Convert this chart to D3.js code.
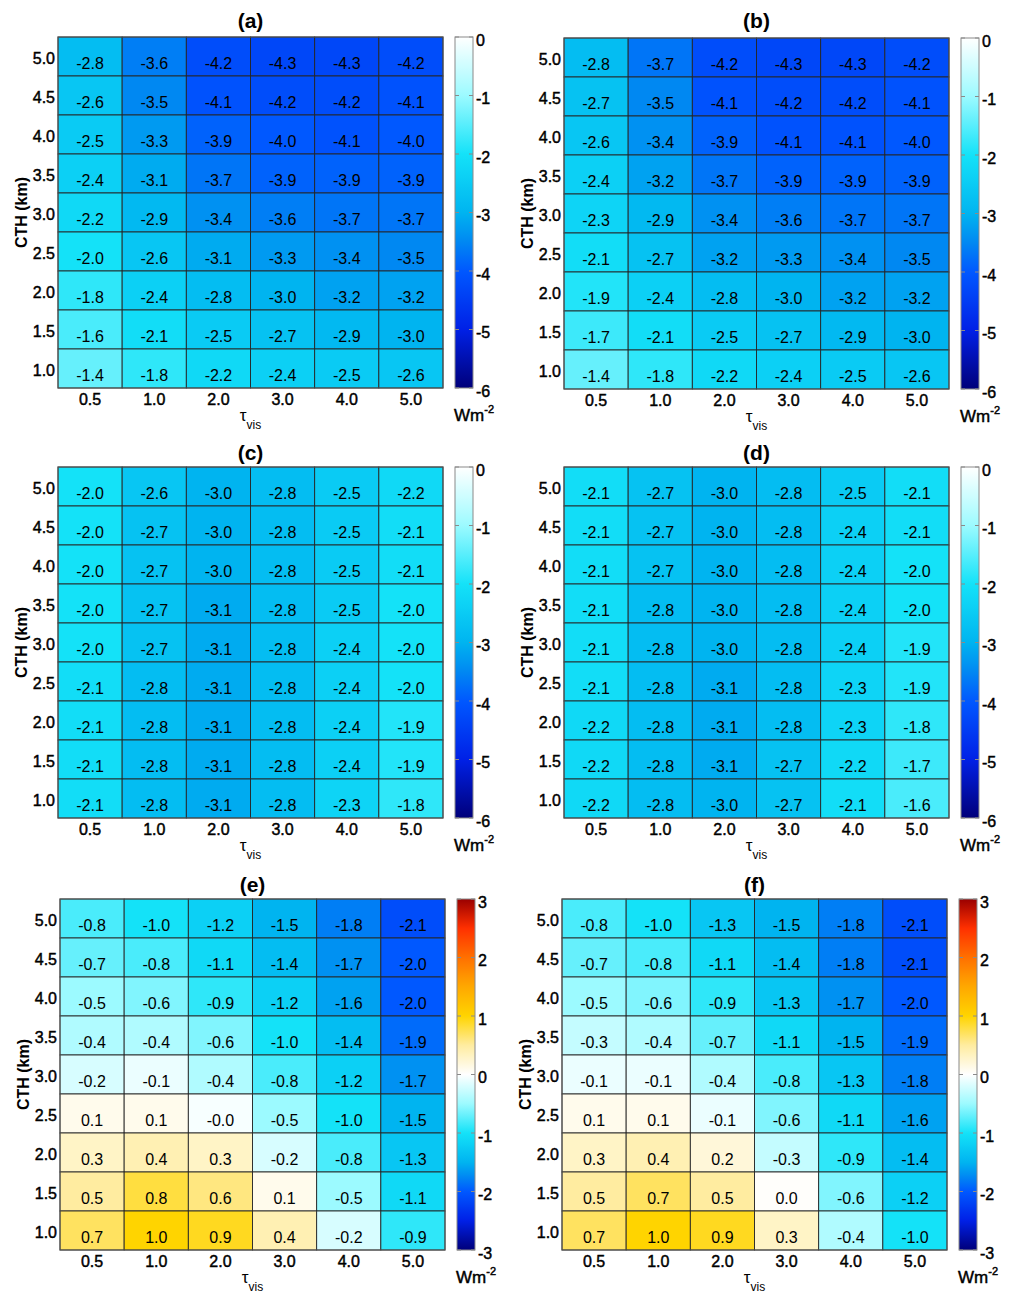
<!DOCTYPE html>
<html><head><meta charset="utf-8">
<script src="https://cdn.jsdelivr.net/npm/d3@7"></script>
<style>
body{margin:0;background:#fff}
svg{display:block}
text{font-family:"Liberation Sans",Arial,Helvetica,sans-serif;fill:#000}
.heavy{stroke:#000;stroke-width:0.45px}
</style>
</head><body>
<svg id="chart" width="1010" height="1293"></svg>
<script>
// ---------- data ----------
const tauLabels = ["0.5","1.0","2.0","3.0","4.0","5.0"];
const cthLabels = ["5.0","4.5","4.0","3.5","3.0","2.5","2.0","1.5","1.0"]; // top -> bottom
const panelTitles = ["(a)","(b)","(c)","(d)","(e)","(f)"];

// rows follow cthLabels (5.0 at top), columns follow tauLabels
const valuesA = [
  [-2.8,-3.6,-4.2,-4.3,-4.3,-4.2],
  [-2.6,-3.5,-4.1,-4.2,-4.2,-4.1],
  [-2.5,-3.3,-3.9,-4.0,-4.1,-4.0],
  [-2.4,-3.1,-3.7,-3.9,-3.9,-3.9],
  [-2.2,-2.9,-3.4,-3.6,-3.7,-3.7],
  [-2.0,-2.6,-3.1,-3.3,-3.4,-3.5],
  [-1.8,-2.4,-2.8,-3.0,-3.2,-3.2],
  [-1.6,-2.1,-2.5,-2.7,-2.9,-3.0],
  [-1.4,-1.8,-2.2,-2.4,-2.5,-2.6]
];
const valuesB = [
  [-2.8,-3.7,-4.2,-4.3,-4.3,-4.2],
  [-2.7,-3.5,-4.1,-4.2,-4.2,-4.1],
  [-2.6,-3.4,-3.9,-4.1,-4.1,-4.0],
  [-2.4,-3.2,-3.7,-3.9,-3.9,-3.9],
  [-2.3,-2.9,-3.4,-3.6,-3.7,-3.7],
  [-2.1,-2.7,-3.2,-3.3,-3.4,-3.5],
  [-1.9,-2.4,-2.8,-3.0,-3.2,-3.2],
  [-1.7,-2.1,-2.5,-2.7,-2.9,-3.0],
  [-1.4,-1.8,-2.2,-2.4,-2.5,-2.6]
];
const valuesC = [
  [-2.0,-2.6,-3.0,-2.8,-2.5,-2.2],
  [-2.0,-2.7,-3.0,-2.8,-2.5,-2.1],
  [-2.0,-2.7,-3.0,-2.8,-2.5,-2.1],
  [-2.0,-2.7,-3.1,-2.8,-2.5,-2.0],
  [-2.0,-2.7,-3.1,-2.8,-2.4,-2.0],
  [-2.1,-2.8,-3.1,-2.8,-2.4,-2.0],
  [-2.1,-2.8,-3.1,-2.8,-2.4,-1.9],
  [-2.1,-2.8,-3.1,-2.8,-2.4,-1.9],
  [-2.1,-2.8,-3.1,-2.8,-2.3,-1.8]
];
const valuesD = [
  [-2.1,-2.7,-3.0,-2.8,-2.5,-2.1],
  [-2.1,-2.7,-3.0,-2.8,-2.4,-2.1],
  [-2.1,-2.7,-3.0,-2.8,-2.4,-2.0],
  [-2.1,-2.8,-3.0,-2.8,-2.4,-2.0],
  [-2.1,-2.8,-3.0,-2.8,-2.4,-1.9],
  [-2.1,-2.8,-3.1,-2.8,-2.3,-1.9],
  [-2.2,-2.8,-3.1,-2.8,-2.3,-1.8],
  [-2.2,-2.8,-3.1,-2.7,-2.2,-1.7],
  [-2.2,-2.8,-3.0,-2.7,-2.1,-1.6]
];
const valuesE = [
  [-0.8,-1.0,-1.2,-1.5,-1.8,-2.1],
  [-0.7,-0.8,-1.1,-1.4,-1.7,-2.0],
  [-0.5,-0.6,-0.9,-1.2,-1.6,-2.0],
  [-0.4,-0.4,-0.6,-1.0,-1.4,-1.9],
  [-0.2,-0.1,-0.4,-0.8,-1.2,-1.7],
  [ 0.1, 0.1,-0.04,-0.5,-1.0,-1.5],
  [ 0.3, 0.4, 0.3,-0.2,-0.8,-1.3],
  [ 0.5, 0.8, 0.6, 0.1,-0.5,-1.1],
  [ 0.7, 1.0, 0.9, 0.4,-0.2,-0.9]
];
const valuesF = [
  [-0.8,-1.0,-1.3,-1.5,-1.8,-2.1],
  [-0.7,-0.8,-1.1,-1.4,-1.8,-2.1],
  [-0.5,-0.6,-0.9,-1.3,-1.7,-2.0],
  [-0.3,-0.4,-0.7,-1.1,-1.5,-1.9],
  [-0.1,-0.1,-0.4,-0.8,-1.3,-1.8],
  [ 0.1, 0.1,-0.1,-0.6,-1.1,-1.6],
  [ 0.3, 0.4, 0.2,-0.3,-0.9,-1.4],
  [ 0.5, 0.7, 0.5, 0.02,-0.6,-1.2],
  [ 0.7, 1.0, 0.9, 0.3,-0.4,-1.0]
];
const cbTicksSeq = [0,-1,-2,-3,-4,-5,-6];
const cbTicksDiv = [3,2,1,0,-1,-2,-3];

// ---------- colour scales ----------
const seqColor = d3.scaleLinear()
  .domain([-6,-5,-4,-3.5,-3,-2,-1,0])
  .range(["#00007a","#0020e6","#0058ff","#0088f2","#00b4f0","#14e2f8","#9cfaff","#ffffff"])
  .clamp(true);
const divColor = d3.scaleLinear()
  .domain([-3,-2.5,-2,-1.75,-1.5,-1,-0.5,0,0.5,1,1.5,2,2.5,3])
  .range(["#00007a","#0020e6","#0058ff","#0088f2","#00b4f0","#14e2f8","#9cfaff","#ffffff",
          "#ffeca0","#ffd400","#ffa800","#ff7000","#ff3000","#9a0000"])
  .clamp(true);

// ---------- layout ----------
const W = 385, H = 351;
const panels = [
  {title:panelTitles[0], vals:valuesA, x0:58,  y0:37,  ty:27.5, color:seqColor, dom:[-6,0], ticks:cbTicksSeq},
  {title:panelTitles[1], vals:valuesB, x0:564, y0:38,  ty:28,   color:seqColor, dom:[-6,0], ticks:cbTicksSeq},
  {title:panelTitles[2], vals:valuesC, x0:58,  y0:467, ty:460,  color:seqColor, dom:[-6,0], ticks:cbTicksSeq},
  {title:panelTitles[3], vals:valuesD, x0:564, y0:467, ty:460,  color:seqColor, dom:[-6,0], ticks:cbTicksSeq},
  {title:panelTitles[4], vals:valuesE, x0:60,  y0:899, ty:892,  color:divColor, dom:[-3,3], ticks:cbTicksDiv},
  {title:panelTitles[5], vals:valuesF, x0:562, y0:899, ty:892,  color:divColor, dom:[-3,3], ticks:cbTicksDiv}
];

const svg = d3.select("#chart");
svg.append("rect").attr("width",1010).attr("height",1293).attr("fill","#fff");
const defs = svg.append("defs");

const fmt = v => v.toFixed(1);

panels.forEach((p, pi) => {
  const g = svg.append("g").attr("transform", `translate(${p.x0},${p.y0})`);
  const x = d3.scaleBand().domain(tauLabels).range([0, W]).padding(0);
  const y = d3.scaleBand().domain(cthLabels).range([0, H]).padding(0);

  const cells = [];
  p.vals.forEach((row, ri) => row.forEach((v, ci) => cells.push({cth:cthLabels[ri], tau:tauLabels[ci], v})));

  g.selectAll("rect.cell").data(cells).join("rect")
    .attr("class","cell")
    .attr("x", d => x(d.tau)).attr("y", d => y(d.cth))
    .attr("width", x.bandwidth()).attr("height", y.bandwidth())
    .attr("fill", d => p.color(d.v))
    .attr("stroke", "#262626").attr("stroke-width", 0.9);

  g.selectAll("text.val").data(cells).join("text")
    .attr("class","val")
    .attr("x", d => x(d.tau) + x.bandwidth()/2)
    .attr("y", d => y(d.cth) + y.bandwidth()/2 + 12)
    .attr("text-anchor","middle")
    .attr("font-size", 16)
    .text(d => fmt(d.v));

  g.append("rect").attr("width", W).attr("height", H)
    .attr("fill","none").attr("stroke","#555").attr("stroke-width",1);

  // axes
  const gx = g.append("g").attr("transform", `translate(0,${H})`)
    .call(d3.axisBottom(x).tickSize(0).tickPadding(0));
  gx.select(".domain").remove();
  gx.selectAll("text").attr("y", 17).attr("dy", null).attr("class","heavy")
    .attr("font-size", 16).attr("font-family", null).attr("fill","#000");

  const gy = g.append("g").call(d3.axisLeft(y).tickSize(0).tickPadding(3));
  gy.select(".domain").remove();
  gy.selectAll("text").attr("dy", 7.5).attr("class","heavy").attr("font-size", 16).attr("font-family", null).attr("fill","#000");

  // axis titles
  g.append("text")
    .attr("transform", `translate(-31,${H/2}) rotate(-90)`)
    .attr("text-anchor","middle").attr("font-size",16).attr("font-weight","bold")
    .text("CTH (km)");
  const xt = g.append("text").attr("x", W/2).attr("y", H + 33)
    .attr("text-anchor","middle").attr("font-size",17);
  xt.append("tspan").text("τ");
  xt.append("tspan").attr("font-size",12).attr("dy",8).text("vis");

  // panel title
  svg.append("text").attr("x", p.x0 + W/2).attr("y", p.ty)
    .attr("text-anchor","middle").attr("font-size",21).attr("font-weight","bold")
    .text(p.title);

  // colour bar
  const cbX = W + 12, cbW = 18;
  const gid = "grad" + pi;
  const grad = defs.append("linearGradient").attr("id", gid)
    .attr("x1",0).attr("y1",1).attr("x2",0).attr("y2",0);
  const n = 60;
  d3.range(n + 1).forEach(i => {
    const t = i / n;
    const v = p.dom[0] + t * (p.dom[1] - p.dom[0]);
    grad.append("stop").attr("offset", t).attr("stop-color", p.color(v));
  });
  const cbScale = d3.scaleLinear().domain(p.dom).range([H, 0]);
  const cb = g.append("g").attr("transform", `translate(${cbX},0)`);
  cb.append("rect").attr("width", cbW).attr("height", H)
    .attr("fill", `url(#${gid})`).attr("stroke","#8a8a8a").attr("stroke-width",1);
  cb.selectAll("line.tl").data(p.ticks).join("line").attr("class","tl")
    .attr("x1",0).attr("x2",4).attr("y1", d => cbScale(d)).attr("y2", d => cbScale(d))
    .attr("stroke","#8a8a8a");
  cb.selectAll("line.tr").data(p.ticks).join("line").attr("class","tr")
    .attr("x1",cbW-4).attr("x2",cbW).attr("y1", d => cbScale(d)).attr("y2", d => cbScale(d))
    .attr("stroke","#8a8a8a");
  const cba = cb.append("g").attr("transform", `translate(${cbW},0)`)
    .call(d3.axisRight(cbScale).tickValues(p.ticks).tickSize(0).tickPadding(3).tickFormat(d => String(d)));
  cba.select(".domain").remove();
  cba.selectAll("text").attr("dy", 8).attr("class","heavy").attr("font-size", 16).attr("font-family", null).attr("fill","#000");

  const ut = cb.append("text").attr("x", -1).attr("y", H + 33).attr("font-size", 17).attr("class","heavy");
  ut.append("tspan").text("Wm");
  ut.append("tspan").attr("font-size", 11).attr("dy", -8).text("-2");
});
</script>
</body></html>
